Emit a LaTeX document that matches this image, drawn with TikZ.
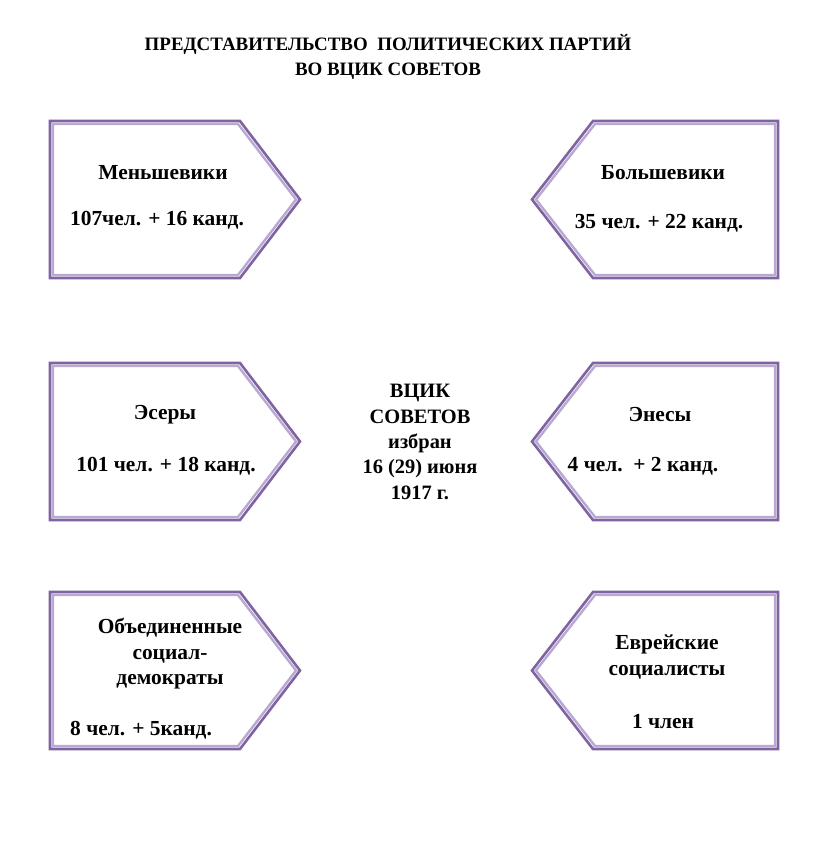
\documentclass[tikz,border=0pt]{standalone}
\usepackage{fontspec}
\setmainfont{Liberation Serif}
\usetikzlibrary{positioning}

\definecolor{boxdark}{RGB}{128,100,162}
\definecolor{boxlight}{RGB}{185,168,210}

\tikzset{
    boxline/.style={line width=2.6bp,boxdark,line join=miter},
    boxshade/.style={line width=2.4bp,boxlight,line join=miter},
    party/.style={font=\bfseries\fontsize{21.5}{25.5}\selectfont,align=center,inner sep=0pt},
    count/.style={font=\bfseries\fontsize{21.5}{25.5}\selectfont,inner sep=0pt}
}

% box with its point to the right, top left corner at (#1,#2)
\newcommand{\boxright}[2]{%
    \draw[boxshade] ({#1+3},{#2+3}) -- ({#1+188},{#2+3}) -- ({#1+246},{#2+78.5})
        -- ({#1+188},{#2+154}) -- ({#1+3},{#2+154}) -- cycle;
    \draw[boxline] (#1,#2) -- ({#1+190},#2) -- ({#1+250},{#2+78.5})
        -- ({#1+190},{#2+157}) -- (#1,{#2+157}) -- cycle;
}
% box with its point to the left, point at x=#1, top at #2
\newcommand{\boxleft}[2]{%
    \draw[boxshade] ({#1+4},{#2+78.5}) -- ({#1+63},{#2+3}) -- ({#1+243},{#2+3})
        -- ({#1+243},{#2+154}) -- ({#1+63},{#2+154}) -- cycle;
    \draw[boxline] (#1,{#2+78.5}) -- ({#1+61},#2) -- ({#1+246},#2)
        -- ({#1+246},{#2+157}) -- ({#1+61},{#2+157}) -- cycle;
}

\begin{document}
\begin{tikzpicture}[x=1bp,y=-1bp]
    \useasboundingbox[fill=white] (0,0) rectangle (816,851);

    % Title
    \node[font=\bfseries\fontsize{19}{25}\selectfont,align=center] (title) at (388,57)
        {ПРЕДСТАВИТЕЛЬСТВО\ \ ПОЛИТИЧЕСКИХ ПАРТИЙ\\ВО ВЦИК СОВЕТОВ};

    % Boxes
    \foreach \y in {121,363,592}{
        \boxright{50}{\y}
        \boxleft{532}{\y}
    }

    % Left column
    \node[party] (mensh) at (163,173) {Меньшевики};
    \node[count] (menshN) at (157,220) {107чел. + 16 канд.};
    \node[party] (eser) at (165,415) {Эсеры};
    \node[count] (eserN) at (166,466) {101 чел. + 18 канд.};
    \node[party] (obed) at (170,654) {Объединенные\\социал-\\демократы};
    \node[count,anchor=west] (obedN) at (70,730) {8 чел. + 5канд.};

    % Right column
    \node[party] (bolsh) at (663,173) {Большевики};
    \node[count] (bolshN) at (659,223) {35 чел. + 22 канд.};
    \node[party] (enes) at (660,415) {Энесы};
    \node[count] (enesN) at (643,466) {4 чел.\ \ + 2 канд.};
    \node[party] (evr) at (667,657) {Еврейские\\социалисты};
    \node[count] (evrN) at (663,722) {1 член};

    % Centre
    \node[party,font=\bfseries\fontsize{20.5}{25.5}\selectfont] (vcik) at (420,442)
        {ВЦИК\\СОВЕТОВ\\избран\\16 (29) июня\\1917 г.};
\end{tikzpicture}
\end{document}
